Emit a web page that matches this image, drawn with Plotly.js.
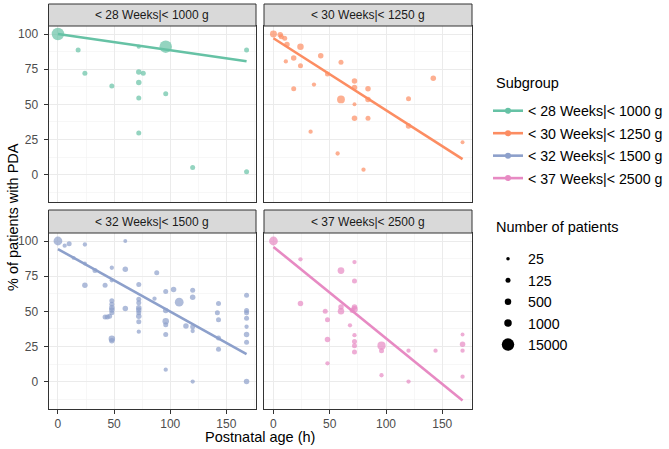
<!DOCTYPE html>
<html>
<head>
<meta charset="utf-8">
<script src="https://cdn.plot.ly/plotly-3.0.1.min.js"></script>
<style>
  html, body { margin: 0; padding: 0; background: #fff; }
  #chart { width: 669px; height: 449px; }
</style>
</head>
<body>
<div id="chart"></div>
<script>
// subgroups and colours (Set2)
var groups = ['&lt; 28 Weeks|&lt; 1000 g', '&lt; 30 Weeks|&lt; 1250 g', '&lt; 32 Weeks|&lt; 1500 g', '&lt; 37 Weeks|&lt; 2500 g'];
var colors = ['#66C2A5', '#FC8D62', '#8DA0CB', '#E78AC3'];

// < 28 weeks
var ageA = [0, 18, 24, 48, 72, 72, 76, 72, 72, 72, 96, 96, 120, 168, 168];
var pctA = [100, 88.7, 72, 63, 91, 73, 72, 65.5, 54.5, 29.5, 91, 57.5, 5, 88.7, 2];
var nA   = [15000, 125, 125, 125, 60, 200, 125, 200, 125, 125, 15000, 125, 125, 125, 125];

// < 30 weeks
var ageB = [0, 6, 7, 10, 12, 24, 11, 18, 24, 42, 60, 48, 18, 36, 72, 72, 84, 60, 84, 120, 142, 72, 72, 84, 120, 33, 57, 80, 168];
var pctB = [100, 99.5, 98, 97, 92.5, 91, 80.5, 83, 77.5, 84.5, 80, 71.5, 61, 64, 66.5, 62, 61, 53.5, 53.5, 54, 68.5, 50, 40, 40, 34.5, 30.5, 15, 3.5, 23];
var nB   = [700, 200, 125, 125, 200, 500, 60, 200, 125, 200, 125, 125, 125, 60, 200, 200, 200, 1200, 200, 125, 200, 40, 200, 125, 200, 60, 60, 60, 40];

// < 32 weeks
var ageC = [0, 6, 10, 24, 14, 24, 33, 48, 60, 60, 24, 42, 48, 72,
            48, 48, 48, 48, 48, 46, 44, 42, 48, 48, 60,
            72, 72, 72, 72, 72, 72, 72, 72,
            86, 88, 96, 103, 108, 120, 120, 96, 96, 96, 96, 96, 114, 120, 120, 120,
            143, 142, 143, 143, 143,
            168, 168, 168, 168, 168, 168, 168, 168];
var pctC = [100, 96.7, 98, 97.5, 88, 84, 79, 81, 100, 80, 68.5, 68.5, 72, 69,
            57.5, 55, 52.5, 51, 49, 46.5, 46, 46, 30.5, 29, 52,
            58.5, 56, 52.5, 51, 49, 46.5, 42.5, 35.5,
            59, 77.5, 64, 65.5, 56.5, 65, 60, 50.5, 43, 40.5, 33.5, 8.5, 39.5, 39, 36, 0,
            55.5, 49, 44, 31, 23,
            61.5, 50.5, 49, 45, 39, 33.5, 28, 0];
var nC   = [2000, 60, 125, 60, 40, 40, 125, 60, 40, 200, 200, 125, 60, 125,
            125, 125, 200, 200, 125, 125, 125, 125, 500, 200, 200,
            125, 125, 200, 200, 125, 200, 125, 60,
            60, 125, 125, 200, 2000, 125, 200, 200, 500, 125, 125, 60, 200, 125, 60, 60,
            125, 125, 125, 125, 125,
            125, 125, 125, 125, 60, 200, 125, 200];

// < 37 weeks
var ageD = [0, 24, 24, 60, 72, 72, 46, 48, 48, 48, 60, 60, 68, 72, 72, 70, 72, 72, 72, 72, 96, 96, 96, 120, 120, 144, 168, 168, 168, 168];
var pctD = [100, 87, 55.5, 79, 85, 71.5, 50, 44, 30, 13, 53, 50, 40, 53, 51.5, 50.5, 33, 28.5, 25.5, 21, 25.5, 22, 4.5, 22, 0, 22, 33.5, 26.5, 22, 3.5];
var nD   = [2000, 60, 200, 600, 60, 125, 125, 125, 200, 60, 200, 500, 60, 200, 500, 125, 60, 125, 125, 125, 1500, 125, 60, 60, 60, 60, 40, 200, 60, 60];

// fitted lines (end points)
var fitX = [0, 168];
var fitA = [100, 80.6];
var fitB = [97, 11];
var fitC = [94.3, 19.5];
var fitD = [95.8, -13.5];

// size legend
var sizeBreaks = [25, 125, 500, 1000, 15000];
var sizePx = [3.5, 5, 6.5, 7.5, 12.5];

function dotSize(n) {
  var l = Math.log(n);
  if (n <= sizeBreaks[0]) return sizePx[0];
  for (var i = 1; i < sizeBreaks.length; i++) {
    if (n <= sizeBreaks[i]) {
      var a = Math.log(sizeBreaks[i - 1]), b = Math.log(sizeBreaks[i]);
      return sizePx[i - 1] + (sizePx[i] - sizePx[i - 1]) * (l - a) / (b - a);
    }
  }
  return sizePx[sizePx.length - 1];
}

var W = 669, H = 449;
function px(x) { return x / W; }
function py(y) { return (H - y) / H; }

var FONT = 'Liberation Sans, Arial, sans-serif';
var panels = [
  {x: ageA, y: pctA, n: nA, fit: fitA, xa: 'x',  ya: 'y'},
  {x: ageB, y: pctB, n: nB, fit: fitB, xa: 'x2', ya: 'y2'},
  {x: ageC, y: pctC, n: nC, fit: fitC, xa: 'x3', ya: 'y3'},
  {x: ageD, y: pctD, n: nD, fit: fitD, xa: 'x4', ya: 'y4'}
];

var data = [];
panels.forEach(function (p, i) {
  data.push({
    type: 'scatter', mode: 'markers', x: p.x, y: p.y, xaxis: p.xa, yaxis: p.ya,
    marker: {color: colors[i], size: p.n.map(dotSize), line: {width: 0}},
    showlegend: false, hoverinfo: 'skip'
  });
  data.push({
    type: 'scatter', mode: 'lines', x: fitX, y: p.fit, xaxis: p.xa, yaxis: p.ya,
    line: {color: colors[i], width: 2.6},
    showlegend: false, hoverinfo: 'skip'
  });
});

// legend entries
groups.forEach(function (g, i) {
  data.push({
    type: 'scatter', mode: 'lines+markers', x: [null], y: [null],
    name: g, legend: 'legend', legendgroup: 'g' + i,
    line: {color: colors[i], width: 2.6}, marker: {color: colors[i], size: 6}
  });
});
sizeBreaks.forEach(function (s, i) {
  data.push({
    type: 'scatter', mode: 'markers', x: [null], y: [null],
    name: String(s), legend: 'legend2', legendgroup: 's' + i,
    marker: {color: '#000000', size: dotSize(s)}
  });
});

var xDomL = [px(48.5), px(256)], xDomR = [px(264), px(472)];
var yDomT = [py(202), py(26)], yDomB = [py(409), py(233)];

function xAxis(dom, anchor, labels) {
  return {
    domain: dom, anchor: anchor, range: [-8.4, 176.4], dtick: 50, tick0: 0,
    showgrid: true, gridcolor: '#EBEBEB', gridwidth: 1, zeroline: false,
    minor: {dtick: 25, showgrid: true, gridcolor: '#F2F2F2', gridwidth: 0.6},
    showline: true, mirror: true, linecolor: '#333333', linewidth: 1,
    ticks: labels ? 'outside' : '', ticklen: 4, tickcolor: '#333333', tickwidth: 1,
    showticklabels: labels, tickfont: {family: FONT, size: 12, color: '#4D4D4D'}
  };
}
function yAxis(dom, anchor, labels) {
  return {
    domain: dom, anchor: anchor, range: [-19.5, 105.7], dtick: 25, tick0: 0,
    showgrid: true, gridcolor: '#EBEBEB', gridwidth: 1, zeroline: false,
    minor: {dtick: 12.5, showgrid: true, gridcolor: '#F2F2F2', gridwidth: 0.6},
    showline: true, mirror: true, linecolor: '#333333', linewidth: 1,
    ticks: labels ? 'outside' : '', ticklen: 4, tickcolor: '#333333', tickwidth: 1,
    ticklabelstandoff: 3,
    showticklabels: labels, tickfont: {family: FONT, size: 12, color: '#4D4D4D'}
  };
}

var strips = [
  {x: xDomL, y: [py(26), py(4)]},
  {x: xDomR, y: [py(26), py(4)]},
  {x: xDomL, y: [py(233), py(210)]},
  {x: xDomR, y: [py(233), py(210)]}
];

var shapes = strips.map(function (s) {
  return {type: 'rect', xref: 'paper', yref: 'paper', x0: s.x[0], x1: s.x[1], y0: s.y[0], y1: s.y[1],
          fillcolor: '#D9D9D9', line: {color: '#333333', width: 1}, layer: 'above'};
});

var annotations = strips.map(function (s, i) {
  return {xref: 'paper', yref: 'paper', x: (s.x[0] + s.x[1]) / 2, y: (s.y[0] + s.y[1]) / 2,
          xanchor: 'center', yanchor: 'middle', showarrow: false, text: groups[i],
          font: {family: FONT, size: 12, color: '#1A1A1A'}};
});
annotations.push({xref: 'paper', yref: 'paper', x: px(260), y: py(437), xanchor: 'center', yanchor: 'middle',
  showarrow: false, text: 'Postnatal age (h)', font: {family: FONT, size: 14.5, color: '#000000'}});
annotations.push({xref: 'paper', yref: 'paper', x: px(12.5), y: py(217.5), xanchor: 'center', yanchor: 'middle',
  showarrow: false, textangle: -90, text: '% of patients with PDA', font: {family: FONT, size: 14.5, color: '#000000'}});
// legend titles
annotations.push({xref: 'paper', yref: 'paper', x: px(494), y: py(83), xanchor: 'left', yanchor: 'middle',
  showarrow: false, text: 'Subgroup', font: {family: FONT, size: 14.5, color: '#000000'}});
annotations.push({xref: 'paper', yref: 'paper', x: px(494), y: py(227), xanchor: 'left', yanchor: 'middle',
  showarrow: false, text: 'Number of patients', font: {family: FONT, size: 14.5, color: '#000000'}});

var layout = {
  width: W, height: H,
  margin: {l: 0, r: 0, t: 0, b: 0},
  paper_bgcolor: '#FFFFFF', plot_bgcolor: '#FFFFFF',
  font: {family: FONT, color: '#000000'},
  hovermode: false,
  xaxis: xAxis(xDomL, 'y', false),
  yaxis: yAxis(yDomT, 'x', true),
  xaxis2: xAxis(xDomR, 'y2', false),
  yaxis2: yAxis(yDomT, 'x2', false),
  xaxis3: xAxis(xDomL, 'y3', true),
  yaxis3: yAxis(yDomB, 'x3', true),
  xaxis4: xAxis(xDomR, 'y4', true),
  yaxis4: yAxis(yDomB, 'x4', false),
  shapes: shapes,
  annotations: annotations,
  legend: {
    x: px(488), y: py(95), xanchor: 'left', yanchor: 'top',
    font: {family: FONT, size: 14.2, color: '#000000'},
    bgcolor: 'rgba(0,0,0,0)', tracegroupgap: 1, itemwidth: 30
  },
  legend2: {
    x: px(488), y: py(243), xanchor: 'left', yanchor: 'top',
    font: {family: FONT, size: 14.2, color: '#000000'},
    bgcolor: 'rgba(0,0,0,0)', tracegroupgap: 0, itemwidth: 30, itemsizing: 'trace'
  }
};

Plotly.newPlot('chart', data, layout, {displayModeBar: false, staticPlot: true});
</script>
</body>
</html>
